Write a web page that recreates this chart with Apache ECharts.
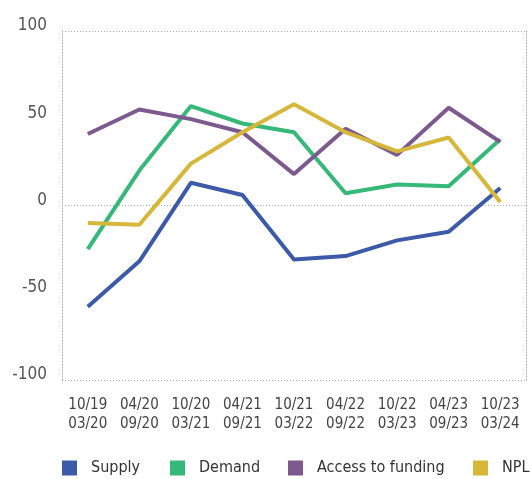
<!DOCTYPE html>
<html>
<head>
<meta charset="utf-8">
<script src="https://cdn.jsdelivr.net/npm/echarts@6/dist/echarts.min.js"></script>
<style>
  html, body { margin: 0; padding: 0; background: #fff; }
  #main { width: 532px; height: 479px; }
</style>
</head>
<body>
<div id="main"></div>
<script>
// 图表数据
var categories = ['10/19\n03/20', '04/20\n09/20', '10/20\n03/21', '04/21\n09/21', '10/21\n03/22',
                  '04/22\n09/22', '10/22\n03/23', '04/23\n09/23', '10/23\n03/24'];
var supply = [-58, -32, 13, 6, -31, -29, -20, -15, 10];
var demand = [-25, 20, 57, 47, 42, 7, 12, 11, 38];
var access = [41, 55, 49.5, 42, 18, 44, 29, 56, 36.5];
var npl = [-10, -11, 24, 42, 58, 42, 31, 39, 2];
var yTicks = [-100, -50, 0, 50, 100];

var names = ['Supply', 'Demand', 'Access to funding', 'NPL'];
var colors = ['#3d5aa8', '#36b878', '#7c5a8e', '#d6b73a'];
var values = [supply, demand, access, npl];

var font = "'DejaVu Sans Condensed', sans-serif";
var dotted = { color: '#aaa', width: 1, type: [1, 2] };

// 每个图例单独放置
var legendLeft = [62, 170, 288, 473];
var legends = names.map(function (n, i) {
    return {
        data: [n],
        left: legendLeft[i],
        top: 460,
        padding: 0,
        icon: 'rect',
        itemWidth: 15,
        itemHeight: 15,
        textStyle: { fontFamily: font, fontSize: 16, color: '#333', padding: [0, 0, 0, 9] }
    };
});

var myChart = echarts.init(document.getElementById('main'));

var option = {
    animation: false,
    color: colors,
    legend: legends,
    grid: { left: 62, right: 6, top: 31, bottom: 99 },
    xAxis: {
        type: 'category',
        data: categories,
        boundaryGap: true,
        axisLine: { show: false },
        axisTick: { show: false },
        axisLabel: { interval: 0, fontFamily: font, fontSize: 15, color: '#444', lineHeight: 19, margin: 16 }
    },
    yAxis: [{
        type: 'value',
        min: yTicks[0],
        max: yTicks[yTicks.length - 1],
        interval: 50,
        axisLine: { show: true, lineStyle: dotted },
        axisTick: { show: false },
        axisLabel: { fontFamily: font, fontSize: 17, color: '#555', margin: 15, verticalAlign: 'bottom', lineHeight: 10 },
        splitLine: {
            show: true,
            lineStyle: { color: ['#aaa', 'transparent', '#aaa', 'transparent', '#aaa'], width: 1, type: [1, 2] }
        }
    }, {
        type: 'value',
        position: 'right',
        min: yTicks[0],
        max: yTicks[yTicks.length - 1],
        interval: 50,
        axisLine: { show: true, lineStyle: dotted },
        axisTick: { show: false },
        axisLabel: { show: false },
        splitLine: { show: false }
    }],
    series: names.map(function (n, i) {
        return {
            name: n,
            type: 'line',
            data: values[i],
            symbol: 'none',
            lineStyle: { width: 4, color: colors[i] },
            itemStyle: { color: colors[i] }
        };
    })
};

myChart.setOption(option);
</script>
</body>
</html>
